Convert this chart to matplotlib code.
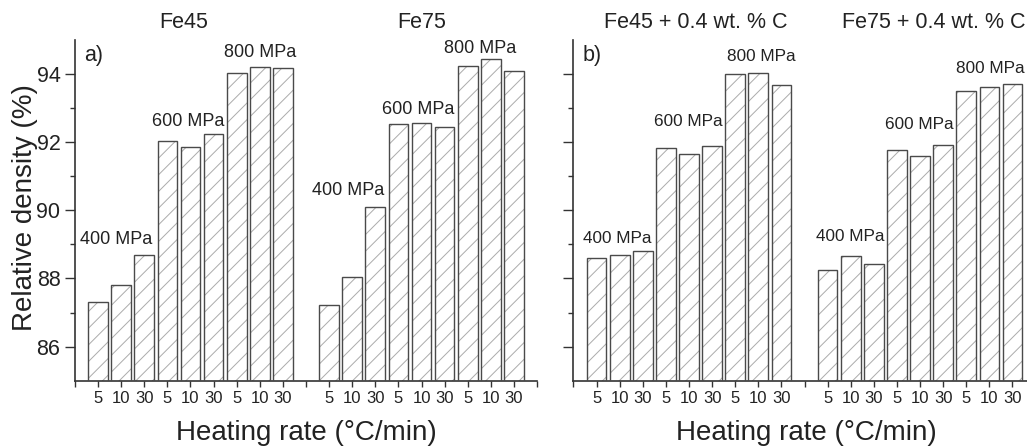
import matplotlib
matplotlib.use("Agg")
import matplotlib.pyplot as plt
import numpy as np

plt.rcParams["font.family"] = ["Liberation Sans", "DejaVu Sans"]
plt.rcParams["hatch.linewidth"] = 0.7

# heating rates (°C/min) repeated for the three compaction pressures
rates = ["5", "10", "30"] * 3
pressures = ["400 MPa", "600 MPa", "800 MPa"]

# relative density (%)
fe45 = [87.31, 87.80, 88.70, 92.04, 91.86, 92.23, 94.04, 94.22, 94.18]
fe75 = [87.23, 88.04, 90.09, 92.54, 92.56, 92.46, 94.23, 94.43, 94.10]
fe45_c = [88.60, 88.70, 88.82, 91.82, 91.64, 91.90, 93.99, 94.02, 93.68]
fe75_c = [88.26, 88.65, 88.44, 91.78, 91.60, 91.93, 93.51, 93.62, 93.70]

panels = [
    ("a)", ("Fe45", "Fe75"), (fe45, fe75)),
    ("b)", ("Fe45 + 0.4 wt. % C", "Fe75 + 0.4 wt. % C"), (fe45_c, fe75_c)),
]

# label placement tweaks (dx in categories, dy in % above group max)
label_dx = [[-0.2, -0.1, 0.0, -0.17, -0.16, -0.45],
            [-0.1, -0.03, 0.12, 0.0, -0.05, 0.05]]
label_dy = [[0.43, 0.39, 0.40, 0.49, 0.40, 0.33],
            [0.34, 0.70, 0.50, 0.58, 0.60, 0.45]]
title_x = [[4.72, 15.0], [5.3, 15.6]]
label_size = [13, 12.3]

text_c = "#222222"
fig = plt.figure(figsize=(10.27, 4.48), dpi=100)
axes = [fig.add_axes([0.073, 0.1502, 0.4499, 0.7605]),
        fig.add_axes([0.5584, 0.1502, 0.4499, 0.7605])]

for k, (ax, (tag, titles, series)) in enumerate(zip(axes, panels)):
    tick_pos, tick_lab = [0], [""]
    for g, vals in enumerate(series):
        x = np.arange(1, 10) + 10 * g
        ax.bar(x, vals, width=0.85, color="white", edgecolor="#ababab",
               hatch="//", linewidth=0, zorder=2)
        ax.bar(x, vals, width=0.85, fill=False, edgecolor="#4a4a4a",
               linewidth=1.0, zorder=3)
        tick_pos += list(x) + [10 * (g + 1)]
        tick_lab += rates + [""]
        for p, name in enumerate(pressures):
            grp = vals[3 * p:3 * p + 3]
            i = 3 * g + p
            ax.text(x[3 * p + 1] + label_dx[k][i], max(grp) + label_dy[k][i],
                    name, ha="center", va="center",
                    fontsize=label_size[k], color=text_c)
        ax.text(title_x[k][g], 1.052, titles[g], transform=ax.get_xaxis_transform(),
                ha="center", va="center", fontsize=15.5, color=text_c)

    ax.set_xlim(0, 20)
    ax.set_ylim(85, 95)
    ax.set_xticks(tick_pos)
    ax.set_xticklabels(tick_lab)
    ax.set_yticks([86, 88, 90, 92, 94])
    ax.set_yticks([87, 89, 91, 93], minor=True)
    if k == 0:
        ax.tick_params(axis="y", labelsize=15.5, pad=3.5)
    else:
        ax.tick_params(axis="y", labelleft=False)
    ax.tick_params(axis="x", labelsize=12, length=4, pad=3.5)
    ax.tick_params(which="both", direction="out", color="#333333",
                   labelcolor=text_c, width=1.0)
    ax.tick_params(axis="y", which="major", length=7)
    ax.tick_params(axis="y", which="minor", length=3.5)
    for s in ("top", "right"):
        ax.spines[s].set_visible(False)
    for s in ("left", "bottom"):
        ax.spines[s].set_color("#333333")
        ax.spines[s].set_linewidth(1.2)
    ax.text(0.4, 94.55, tag, ha="left", va="center", fontsize=15.5, color=text_c)

fig.text(25 / 1027, 1 - 208 / 448, "Relative density (%)", rotation=90,
         ha="center", va="center", fontsize=20, color=text_c)
for cx in (306.7, 806.7):
    fig.text(cx / 1027, 1 - 433 / 448, "Heating rate (°C/min)",
             ha="center", va="center", fontsize=20, color=text_c)

fig.savefig("out.png", dpi=100)
